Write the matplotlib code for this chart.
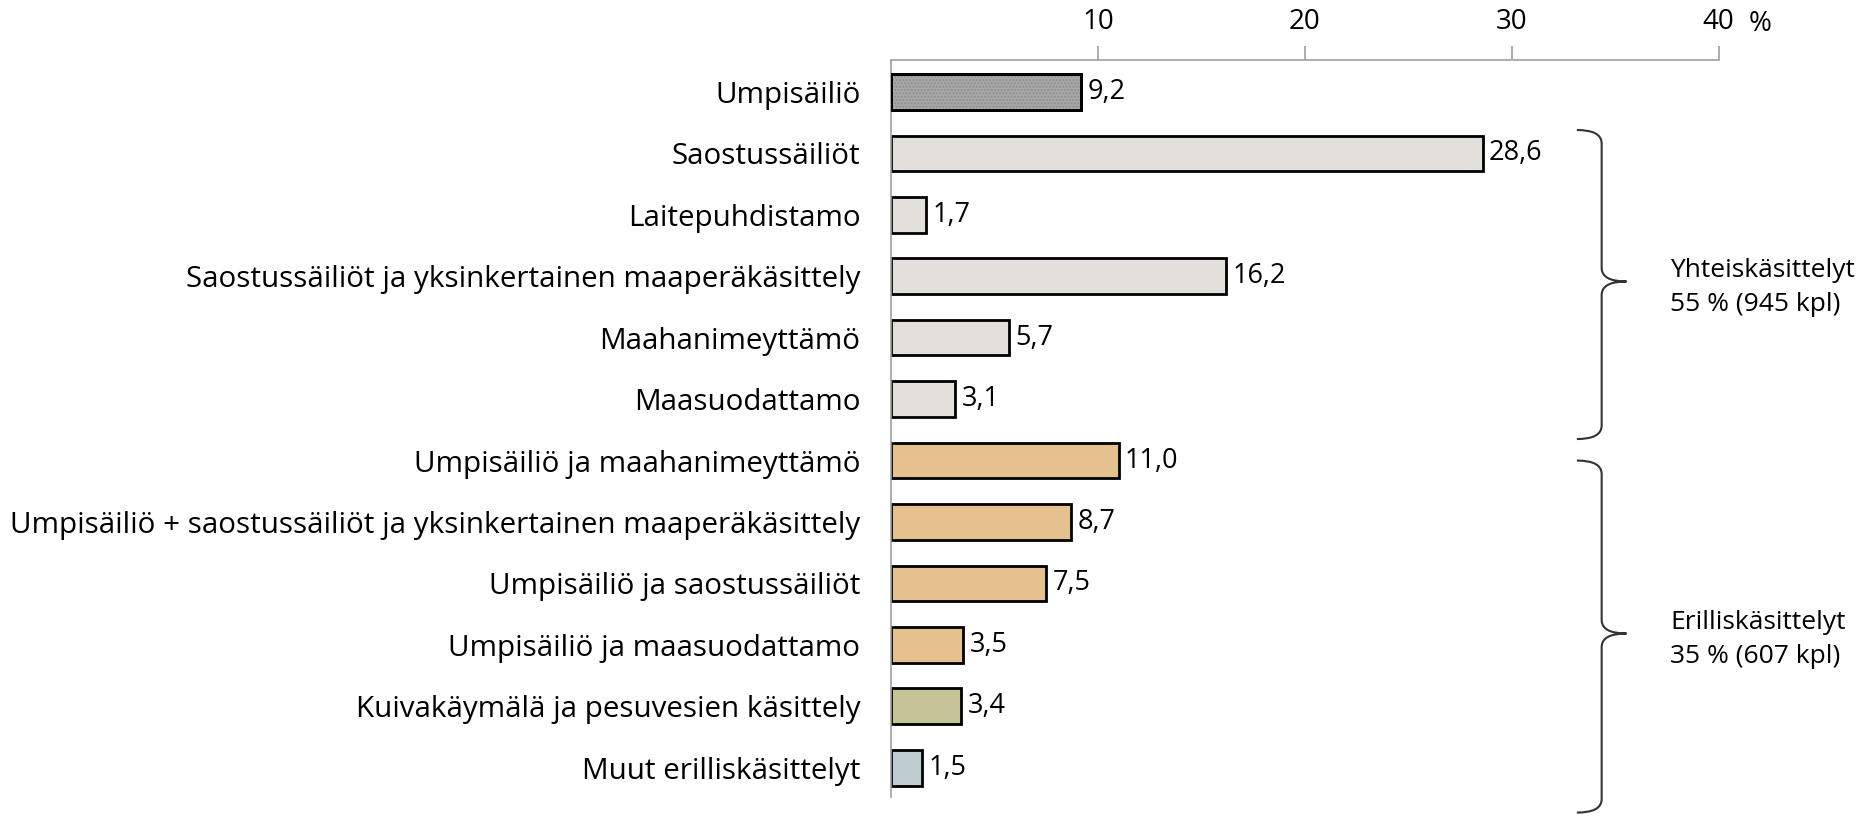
import matplotlib.pyplot as plt
from matplotlib.path import Path
from matplotlib.patches import PathPatch
import matplotlib.transforms as mtransforms

plt.rcParams['font.family'] = ['Open Sans', 'DejaVu Sans']

categories = ['Umpisäiliö', 'Saostussäiliöt', 'Laitepuhdistamo',
              'Saostussäiliöt ja yksinkertainen maaperäkäsittely',
              'Maahanimeyttämö', 'Maasuodattamo',
              'Umpisäiliö ja maahanimeyttämö',
              'Umpisäiliö + saostussäiliöt ja yksinkertainen maaperäkäsittely',
              'Umpisäiliö ja saostussäiliöt', 'Umpisäiliö ja maasuodattamo',
              'Kuivakäymälä ja pesuvesien käsittely', 'Muut erilliskäsittelyt']
values = [9.2, 28.6, 1.7, 16.2, 5.7, 3.1, 11.0, 8.7, 7.5, 3.5, 3.4, 1.5]
colors = ['#a8a8a8'] + ['#e3e0dc'] * 5 + ['#e4c18f'] * 4 + ['#c4c497', '#bdcdd2']
ticks = [10, 20, 30, 40]
groups = [('Yhteiskäsittelyt\n55 % (945 kpl)', 0.62, 5.65),
          ('Erilliskäsittelyt\n35 % (607 kpl)', 6.0, 11.73)]

FS = 21.3
fig = plt.figure(figsize=(18.68, 8.16), dpi=100)
ax = fig.add_axes([0.477, 0.023, 0.443, 0.9035])

y = list(range(len(values)))
ax.barh(y, values, height=0.58, color=colors, edgecolor='black', linewidth=2, zorder=2)
# dotted texture on the first bar
ax.barh(y[0], values[0], height=0.58, color='none', edgecolor='#8e8e8e',
        hatch='.....', linewidth=0, zorder=3)
ax.barh(y[0], values[0], height=0.58, color='none', edgecolor='black',
        linewidth=2, zorder=4)

for yi, v in zip(y, values):
    ax.text(v + 0.3, yi, f'{v:.1f}'.replace('.', ','), va='center', ha='left', fontsize=19.5)

ax.set_xlim(0, 40)
ax.set_ylim(11.48, -0.52)
ax.xaxis.tick_top()
ax.set_xticks(ticks)
ax.set_xticklabels([str(t) for t in ticks], fontsize=20)
ax.tick_params(axis='x', direction='out', length=10, color='#a0a0a0', width=1.2, pad=7)
ax.set_yticks(y)
ax.set_yticklabels(categories, fontsize=FS)
ax.tick_params(axis='y', length=0, pad=22)
for s in ['right', 'bottom']:
    ax.spines[s].set_visible(False)
for s in ['top', 'left']:
    ax.spines[s].set_color('#a0a0a0')
    ax.spines[s].set_linewidth(1.2)

trans = mtransforms.blended_transform_factory(ax.transData, ax.transAxes)
ax.annotate('%', xy=(40, 1), xycoords=trans, xytext=(22, 16),
            textcoords='offset points', fontsize=20, ha='left', va='bottom')

# braces
x0, dx, dy = 34.35, 1.2, 0.22
for label, top, bot in groups:
    mid = (top + bot) / 2 - 0.05
    verts = [(x0 - dx, top), (x0, top), (x0, top + dy),
             (x0, mid - dy), (x0, mid), (x0 + dx, mid),
             (x0, mid), (x0, mid + dy),
             (x0, bot - dy), (x0, bot), (x0 - dx, bot)]
    codes = [Path.MOVETO, Path.CURVE3, Path.CURVE3,
             Path.LINETO, Path.CURVE3, Path.CURVE3,
             Path.CURVE3, Path.CURVE3,
             Path.LINETO, Path.CURVE3, Path.CURVE3]
    ax.add_patch(PathPatch(Path(verts, codes), fill=False, lw=1.5,
                           edgecolor='#333333', clip_on=False))
    ax.text(x0 + 3.3, mid + 0.1, label, fontsize=19, ha='left', va='center',
            linespacing=1.45)

fig.savefig('out.png', dpi=100)
